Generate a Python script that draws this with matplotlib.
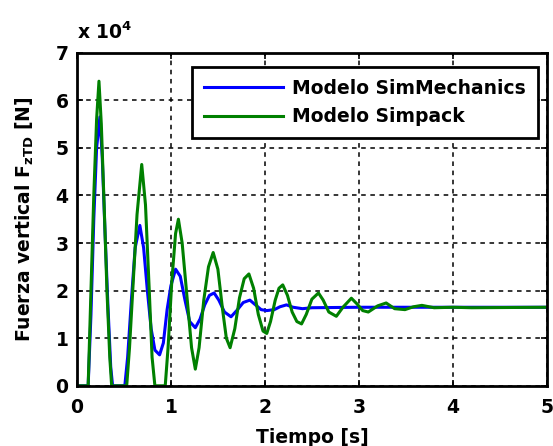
import numpy as np
import matplotlib
matplotlib.use('Agg')
import matplotlib.pyplot as plt

# Vertical force (units of 10^4 N)
t_simmech = [0, 0.12, 0.15, 0.18, 0.21, 0.245, 0.27, 0.30, 0.33, 0.36, 0.38,
             0.51, 0.54, 0.58, 0.62, 0.67, 0.71, 0.75, 0.79, 0.83, 0.88,
             0.92, 0.96, 1.00, 1.05, 1.10, 1.15, 1.20, 1.26, 1.31, 1.36,
             1.41, 1.46, 1.51, 1.57, 1.64, 1.70, 1.77, 1.84, 1.90, 1.96,
             2.02, 2.10, 2.16, 2.23, 2.30, 2.40, 2.50, 3.00, 5.00]
f_simmech = [0, 0, 1.5, 3.5, 5.0, 5.65, 4.8, 3.2, 1.7, 0.4, 0,
             0, 0.6, 1.8, 2.9, 3.37, 2.9, 2.0, 1.2, 0.75, 0.65,
             0.9, 1.6, 2.1, 2.45, 2.3, 1.8, 1.35, 1.22, 1.4, 1.7,
             1.9, 1.95, 1.8, 1.55, 1.45, 1.58, 1.75, 1.8, 1.7, 1.6,
             1.58, 1.6, 1.66, 1.7, 1.65, 1.62, 1.64, 1.65, 1.65]

t_simpack = [0, 0.12, 0.15, 0.18, 0.21, 0.235, 0.26, 0.29, 0.32, 0.35, 0.37,
             0.53, 0.56, 0.60, 0.64, 0.69, 0.73, 0.77, 0.80, 0.83,
             0.94, 0.97, 1.01, 1.05, 1.08, 1.12, 1.17, 1.22, 1.26, 1.30,
             1.35, 1.40, 1.45, 1.50, 1.55, 1.59, 1.63, 1.68, 1.73, 1.78,
             1.83, 1.88, 1.93, 1.98, 2.02, 2.06, 2.11, 2.15, 2.19, 2.24,
             2.29, 2.34, 2.39, 2.44, 2.50, 2.57, 2.62, 2.68, 2.76, 2.83,
             2.92, 2.98, 3.04, 3.10, 3.20, 3.29, 3.38, 3.49, 3.58, 3.67,
             3.80, 4.00, 4.20, 5.00]
f_simpack = [0, 0, 2.0, 4.0, 5.6, 6.4, 5.5, 3.8, 2.0, 0.6, 0,
             0, 0.8, 2.2, 3.6, 4.65, 3.8, 2.0, 0.6, 0,
             0, 0.8, 2.2, 3.2, 3.5, 3.0, 1.9, 0.8, 0.35, 0.8,
             1.8, 2.5, 2.8, 2.45, 1.6, 1.0, 0.8, 1.2, 1.85, 2.25,
             2.35, 2.05, 1.5, 1.15, 1.1, 1.35, 1.8, 2.05, 2.12, 1.9,
             1.55, 1.35, 1.3, 1.5, 1.82, 1.95, 1.8, 1.55, 1.46, 1.65,
             1.84, 1.72, 1.58, 1.55, 1.68, 1.74, 1.62, 1.6, 1.66, 1.69,
             1.64, 1.65, 1.64, 1.65]

x_ticks = [0, 1, 2, 3, 4, 5]
y_ticks = [0, 1, 2, 3, 4, 5, 6, 7]

plt.rcParams['font.family'] = ['DejaVu Sans']
FS = 13.5

fig = plt.figure(figsize=(5.53, 4.46), dpi=100)
ax = fig.add_axes([0.139, 0.135, 0.850, 0.747])

ax.plot(t_simmech, f_simmech, color='#0000ff', linewidth=2.2, label='Modelo SimMechanics')
ax.plot(t_simpack, f_simpack, color='#008000', linewidth=2.2, label='Modelo Simpack')

ax.set_xlim(0, 5)
ax.set_ylim(0, 7)
ax.set_xticks(x_ticks)
ax.set_yticks(y_ticks)

# MATLAB-like look: dashed black grid, inward ticks on all sides
ax.grid(True, color='black', linestyle=(0, (3, 3)), linewidth=1.1)
ax.tick_params(direction='in', top=True, right=True, length=4, width=1.2,
               labelsize=FS)
ax.tick_params(axis='x', pad=9)
ax.tick_params(axis='y', pad=6)
for lab in ax.get_xticklabels() + ax.get_yticklabels():
    lab.set_fontweight('bold')
for sp in ax.spines.values():
    sp.set_linewidth(2.0)

ax.set_xlabel('Tiempo [s]', fontsize=FS, fontweight='bold', labelpad=8)
ax.set_ylabel(r'Fuerza vertical F$_{\mathbf{zTD}}$ [N]', fontsize=FS, fontweight='bold', labelpad=14)

ax.text(0.0, 1.03, r'x 10$^{\mathbf{4}}$', transform=ax.transAxes, fontsize=FS,
        fontweight='bold', ha='left', va='bottom')

leg = ax.legend(loc='upper right', bbox_to_anchor=(0.98, 0.958),
                prop={'weight': 'bold', 'size': FS}, fancybox=False, framealpha=1,
                edgecolor='black', handlelength=4.2, handletextpad=0.45,
                borderpad=0.65, labelspacing=0.5, borderaxespad=0)
leg.get_frame().set_linewidth(2.0)

fig.savefig('out.png', dpi=100)
